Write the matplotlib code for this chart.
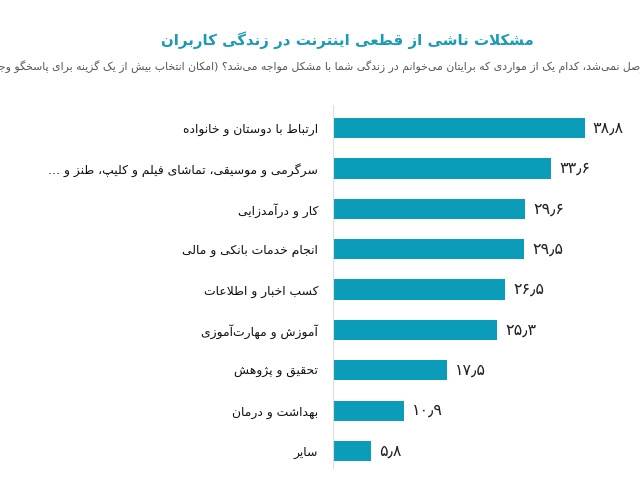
import matplotlib
matplotlib.use('Agg')
import matplotlib.pyplot as plt

# --- data ---
categories = [
    'ارتباط با دوستان و خانواده',
    'سرگرمی و موسیقی، تماشای فیلم و کلیپ، طنز و ...',
    'کار و درآمدزایی',
    'انجام خدمات بانکی و مالی',
    'کسب اخبار و اطلاعات',
    'آموزش و مهارت\u200cآموزی',
    'تحقیق و پژوهش',
    'بهداشت و درمان',
    'سایر',
]
values = [38.8, 33.6, 29.6, 29.5, 26.5, 25.3, 17.5, 10.9, 5.8]
title = 'مشکلات ناشی از قطعی اینترنت در زندگی کاربران'
subtitle = ('اگر اینترنت وصل نمی\u200cشد، کدام یک از مواردی که برایتان می\u200cخوانم '
            'در زندگی شما با مشکل مواجه می\u200cشد؟ (امکان انتخاب بیش از یک گزینه '
            'برای پاسخگو وجود داشت)')

# --- minimal persian shaping (no raqm in matplotlib) ---
# letter: (isolated, final, initial, medial); 2-tuple = joins only to the right
FORMS = {
    'ء': (0xFE80,), 'آ': (0xFE81, 0xFE82), 'أ': (0xFE83, 0xFE84),
    'ؤ': (0xFE85, 0xFE86), 'إ': (0xFE87, 0xFE88),
    'ئ': (0xFE89, 0xFE8A, 0xFE8B, 0xFE8C), 'ا': (0xFE8D, 0xFE8E),
    'ب': (0xFE8F, 0xFE90, 0xFE91, 0xFE92), 'ة': (0xFE93, 0xFE94),
    'ت': (0xFE95, 0xFE96, 0xFE97, 0xFE98), 'ث': (0xFE99, 0xFE9A, 0xFE9B, 0xFE9C),
    'ج': (0xFE9D, 0xFE9E, 0xFE9F, 0xFEA0), 'ح': (0xFEA1, 0xFEA2, 0xFEA3, 0xFEA4),
    'خ': (0xFEA5, 0xFEA6, 0xFEA7, 0xFEA8), 'د': (0xFEA9, 0xFEAA),
    'ذ': (0xFEAB, 0xFEAC), 'ر': (0xFEAD, 0xFEAE), 'ز': (0xFEAF, 0xFEB0),
    'س': (0xFEB1, 0xFEB2, 0xFEB3, 0xFEB4), 'ش': (0xFEB5, 0xFEB6, 0xFEB7, 0xFEB8),
    'ص': (0xFEB9, 0xFEBA, 0xFEBB, 0xFEBC), 'ض': (0xFEBD, 0xFEBE, 0xFEBF, 0xFEC0),
    'ط': (0xFEC1, 0xFEC2, 0xFEC3, 0xFEC4), 'ظ': (0xFEC5, 0xFEC6, 0xFEC7, 0xFEC8),
    'ع': (0xFEC9, 0xFECA, 0xFECB, 0xFECC), 'غ': (0xFECD, 0xFECE, 0xFECF, 0xFED0),
    'ف': (0xFED1, 0xFED2, 0xFED3, 0xFED4), 'ق': (0xFED5, 0xFED6, 0xFED7, 0xFED8),
    'ل': (0xFEDD, 0xFEDE, 0xFEDF, 0xFEE0), 'م': (0xFEE1, 0xFEE2, 0xFEE3, 0xFEE4),
    'ن': (0xFEE5, 0xFEE6, 0xFEE7, 0xFEE8), 'ه': (0xFEE9, 0xFEEA, 0xFEEB, 0xFEEC),
    'و': (0xFEED, 0xFEEE),
    'پ': (0xFB56, 0xFB57, 0xFB58, 0xFB59), 'چ': (0xFB7A, 0xFB7B, 0xFB7C, 0xFB7D),
    'ژ': (0xFB8A, 0xFB8B), 'ک': (0xFB8E, 0xFB8F, 0xFB90, 0xFB91),
    'گ': (0xFB92, 0xFB93, 0xFB94, 0xFB95), 'ی': (0xFBFC, 0xFBFD, 0xFBFE, 0xFBFF),
}
LAM_ALEF = {'ا': (0xFEFB, 0xFEFC), 'آ': (0xFEF5, 0xFEF6)}
MIRROR = {'(': ')', ')': '('}


def fa(text):
    out = []
    i = 0
    n = len(text)
    while i < n:
        c = text[i]
        if c not in FORMS:
            if c != '\u200c':
                out.append(MIRROR.get(c, c))
            i += 1
            continue
        prev = text[i - 1] if i > 0 else ''
        join_prev = prev in FORMS and len(FORMS[prev]) == 4
        if c == 'ل' and i + 1 < n and text[i + 1] in LAM_ALEF:
            lig = LAM_ALEF[text[i + 1]]
            out.append(chr(lig[1] if join_prev else lig[0]))
            i += 2
            continue
        nxt = text[i + 1] if i + 1 < n else ''
        f = FORMS[c]
        join_next = len(f) == 4 and nxt in FORMS
        if len(f) == 1:
            g = f[0]
        elif join_prev and join_next:
            g = f[3]
        elif join_prev:
            g = f[1]
        elif join_next:
            g = f[2]
        else:
            g = f[0]
        out.append(chr(g))
        i += 1
    return ''.join(reversed(out))


def fa_num(v):
    digits = '۰۱۲۳۴۵۶۷۸۹'
    s = f'{v:.1f}'
    return ''.join(digits[int(ch)] if ch.isdigit() else '٫' for ch in s)


plt.rcParams['font.family'] = ['DejaVu Sans']

bar_color = '#0b9cb9'
fig = plt.figure(figsize=(6.4, 4.8), dpi=100)
ax = fig.add_axes([333 / 640, 0.025, 1 - 333 / 640, 0.756])

y = list(range(len(values)))
ax.barh(y, values, height=0.5, color=bar_color)
ax.set_xlim(0, 47.3)
ax.set_ylim(8.42, -0.57)

ax.set_yticks(y)
ax.set_yticklabels([fa(c) for c in categories], fontsize=8.9, color='#111111')
ax.tick_params(axis='y', length=0, pad=10.8)
ax.set_xticks([])
for side in ['top', 'right', 'bottom']:
    ax.spines[side].set_visible(False)
ax.spines['left'].set_color('#dddddd')
ax.spines['left'].set_linewidth(0.8)

for yi, v in zip(y, values):
    ax.annotate(fa_num(v), (v, yi), xytext=(5.8, 0), textcoords='offset points',
                va='center', ha='left', fontsize=11.5, color='#222222')

fig.text(347 / 640, 1 - 40 / 480, fa(title), ha='center', va='center',
         fontsize=10.8, fontweight='bold', color='#1a9ab3')
# subtitle is wider than the figure in the original too, so it runs off both edges
fig.text(326 / 640, 1 - 67 / 480, fa(subtitle), ha='center', va='center',
         fontsize=7.8, color='#555555')

fig.savefig('out.png', dpi=100)
